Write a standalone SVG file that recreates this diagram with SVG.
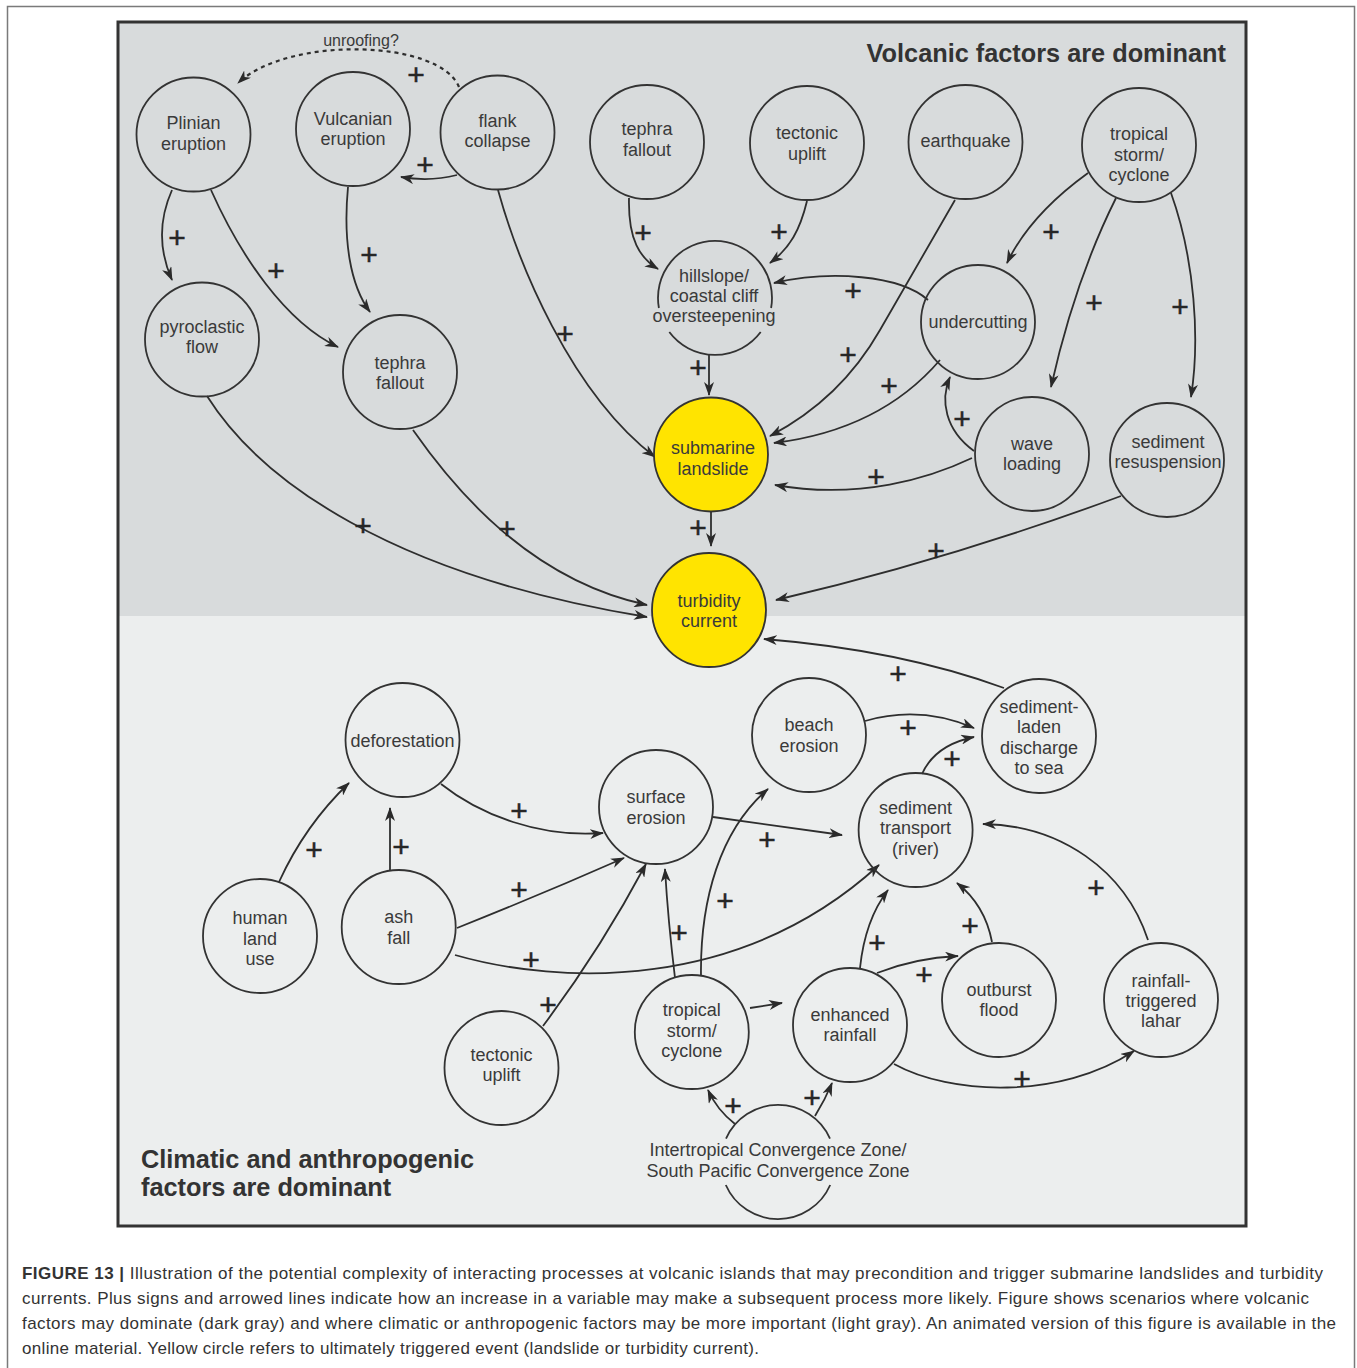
<svg xmlns="http://www.w3.org/2000/svg" width="1357" height="1368" viewBox="0 0 1357 1368">
<style>
.node circle,.node path{fill:none;stroke:#333;stroke-width:1.8}
.node circle.y{fill:#ffe400}
.lbl{font-family:"Liberation Sans",Arial,sans-serif;font-size:18px;fill:#3a3a3a;text-anchor:middle}
.edge{fill:none;stroke:#2e2e2e;stroke-width:1.8;marker-end:url(#ah)}
.dash{stroke-dasharray:4 4;stroke-width:2.2}
.plus{font-family:"Liberation Sans",Arial,sans-serif;font-size:30px;fill:#262626;stroke:#262626;stroke-width:0.5;text-anchor:middle}
.title{font-family:"Liberation Sans",Arial,sans-serif;font-size:25.3px;font-weight:bold;fill:#333}
.cap{font-family:"Liberation Sans",Arial,sans-serif;font-size:17px;fill:#333}
</style>
<defs>
<marker id="ah" viewBox="0 0 14 10" refX="13" refY="5" markerWidth="14" markerHeight="10" markerUnits="userSpaceOnUse" orient="auto"><path d="M0,0 L14,5 L0,10 L4,5 z" fill="#2a2a2a"/></marker>
</defs>
<rect x="0" y="0" width="1357" height="1368" fill="#fff"/>
<rect x="7.5" y="6.5" width="1347" height="1380" fill="none" stroke="#7a7a7a" stroke-width="1.5"/>
<g id="panels">
<rect x="118" y="22" width="1128" height="594" fill="#d8dbdc"/>
<rect x="118" y="616" width="1128" height="610" fill="#eceeee"/>
<rect x="118" y="22" width="1128" height="1204" fill="none" stroke="#333" stroke-width="3"/>
<text class="title" x="1226" y="62" text-anchor="end">Volcanic factors are dominant</text>
<text class="title" x="141" y="1168">Climatic and anthropogenic</text>
<text class="title" x="141" y="1196">factors are dominant</text>
</g>
<g id="connectors">
<path class="edge dash" d="M459,87 C440,40 290,35 238,83"/>
<text class="lbl" x="361" y="46" style="font-size:16px">unroofing?</text>
<path class="edge" d="M457,175 Q430,182 401,177"/>
<path class="edge" d="M172,190 Q152,235 172,280"/>
<path class="edge" d="M211,190 C240,255 285,322 338,347"/>
<path class="edge" d="M348,187 C343,240 350,285 370,312"/>
<path class="edge" d="M498,190 C518,262 570,392 655,457"/>
<path class="edge" d="M629,198 C628,240 640,258 658,269"/>
<path class="edge" d="M807,201 C800,230 790,248 770,263"/>
<path class="edge" d="M928,300 C900,275 830,270 774,283"/>
<path class="edge" d="M955,200 L880,330 Q840.7,399 770,436"/>
<path class="edge" d="M940,360 Q880,430 774,443"/>
<path class="edge" d="M1088,173 Q1030,215 1007,263"/>
<path class="edge" d="M1116,198 Q1075,280 1051,387"/>
<path class="edge" d="M1171,193 C1195,260 1200,340 1191,397"/>
<path class="edge" d="M974,451 C945,430 940,400 950,377"/>
<path class="edge" d="M972,458 C930,478 860,500 775,485"/>
<path class="edge" d="M709,355 L709,395"/>
<path class="edge" d="M711,511 L711,546"/>
<path class="edge" d="M207,396 C260,480 390,575 647,617"/>
<path class="edge" d="M413,430 C455,490 530,580 647,605"/>
<path class="edge" d="M1121,496 Q948,560 776,600"/>
<path class="edge" d="M1004,688 Q900,650 764,639"/>
<path class="edge" d="M279,882 Q305,825 349,783"/>
<path class="edge" d="M390,871 L390,808"/>
<path class="edge" d="M441,784 C480,815 540,838 603,833"/>
<path class="edge" d="M457,928 Q540,895 624,858"/>
<path class="edge" d="M455,955 C560,985 740,992 879,865"/>
<path class="edge" d="M543,1026 Q600,950 646,864"/>
<path class="edge" d="M675,978 Q668,920 665,869"/>
<path class="edge" d="M701,976 C700,900 720,830 768,789"/>
<path class="edge" d="M713,817 L842,835"/>
<path class="edge" d="M865,721 Q920,705 974,728"/>
<path class="edge" d="M922,774 Q935,745 974,737"/>
<path class="edge" d="M750,1008 L782,1003"/>
<path class="edge" d="M860,968 Q865,920 888,890"/>
<path class="edge" d="M877,973 Q915,958 958,956"/>
<path class="edge" d="M992,942 Q985,905 957,883"/>
<path class="edge" d="M1148,940 C1125,870 1060,825 983,824"/>
<path class="edge" d="M894,1064 C950,1095 1060,1100 1134,1051"/>
<path class="edge" d="M735,1124 Q717,1110 708,1090"/>
<path class="edge" d="M815,1116 Q825,1100 832,1083"/>
<g id="plus-signs" transform="translate(0,1)">
<text class="plus" x="416" y="84">+</text>
<text class="plus" x="425" y="174">+</text>
<text class="plus" x="177" y="247">+</text>
<text class="plus" x="276" y="280">+</text>
<text class="plus" x="369" y="264">+</text>
<text class="plus" x="565" y="343">+</text>
<text class="plus" x="643" y="242">+</text>
<text class="plus" x="779" y="241">+</text>
<text class="plus" x="853" y="300">+</text>
<text class="plus" x="848" y="364">+</text>
<text class="plus" x="889" y="395">+</text>
<text class="plus" x="1051" y="241">+</text>
<text class="plus" x="1094" y="312">+</text>
<text class="plus" x="1180" y="316">+</text>
<text class="plus" x="962" y="428">+</text>
<text class="plus" x="876" y="486">+</text>
<text class="plus" x="698" y="377">+</text>
<text class="plus" x="698" y="537">+</text>
<text class="plus" x="363" y="535">+</text>
<text class="plus" x="507" y="538">+</text>
<text class="plus" x="936" y="560">+</text>
<text class="plus" x="898" y="683">+</text>
<text class="plus" x="314" y="859">+</text>
<text class="plus" x="401" y="856">+</text>
<text class="plus" x="519" y="820">+</text>
<text class="plus" x="519" y="899">+</text>
<text class="plus" x="531" y="969">+</text>
<text class="plus" x="548" y="1014">+</text>
<text class="plus" x="679" y="942">+</text>
<text class="plus" x="725" y="910">+</text>
<text class="plus" x="767" y="849">+</text>
<text class="plus" x="908" y="737">+</text>
<text class="plus" x="952" y="768">+</text>
<text class="plus" x="877" y="952">+</text>
<text class="plus" x="924" y="984">+</text>
<text class="plus" x="970" y="935">+</text>
<text class="plus" x="1096" y="897">+</text>
<text class="plus" x="1022" y="1088">+</text>
<text class="plus" x="733" y="1115">+</text>
<text class="plus" x="812" y="1107">+</text>
</g>
</g>
<g id="node-plinian" class="node"><circle cx="193.5" cy="134.5" r="57"/><text class="lbl" x="193.5" y="129">Plinian</text><text class="lbl" x="193.5" y="150">eruption</text></g>
<g id="node-vulcanian" class="node"><circle cx="353" cy="129" r="57"/><text class="lbl" x="353" y="125">Vulcanian</text><text class="lbl" x="353" y="145">eruption</text></g>
<g id="node-flank" class="node"><circle cx="497.5" cy="132.5" r="57"/><text class="lbl" x="497.5" y="127">flank</text><text class="lbl" x="497.5" y="147">collapse</text></g>
<g id="node-tephra-top" class="node"><circle cx="647" cy="142" r="57"/><text class="lbl" x="647" y="135">tephra</text><text class="lbl" x="647" y="156">fallout</text></g>
<g id="node-tectonic-top" class="node"><circle cx="807" cy="143" r="57"/><text class="lbl" x="807" y="139">tectonic</text><text class="lbl" x="807" y="160">uplift</text></g>
<g id="node-earthquake" class="node"><circle cx="965.5" cy="142" r="57"/><text class="lbl" x="965.5" y="147">earthquake</text></g>
<g id="node-storm-top" class="node"><circle cx="1139" cy="145" r="57"/><text class="lbl" x="1139" y="140">tropical</text><text class="lbl" x="1139" y="161">storm/</text><text class="lbl" x="1139" y="181">cyclone</text></g>
<g id="node-hillslope" class="node"><path d="M658.9,308 A57,57 0 1 1 771.1,308"/><path d="M760.7,332 A57,57 0 0 1 669.3,332"/><text class="lbl" x="714" y="282">hillslope/</text><text class="lbl" x="714" y="302">coastal cliff</text><text class="lbl" x="714" y="322">oversteepening</text></g>
<g id="node-undercutting" class="node"><circle cx="978" cy="322" r="57"/><text class="lbl" x="978" y="328">undercutting</text></g>
<g id="node-pyroclastic" class="node"><circle cx="202" cy="339.5" r="57"/><text class="lbl" x="202" y="333">pyroclastic</text><text class="lbl" x="202" y="353">flow</text></g>
<g id="node-tephra-mid" class="node"><circle cx="400" cy="372" r="57"/><text class="lbl" x="400" y="369">tephra</text><text class="lbl" x="400" y="389">fallout</text></g>
<g id="node-submarine" class="node"><circle class="y" cx="711" cy="454.5" r="57"/><text class="lbl" x="713" y="454">submarine</text><text class="lbl" x="713" y="475">landslide</text></g>
<g id="node-turbidity" class="node"><circle class="y" cx="709" cy="610" r="57"/><text class="lbl" x="709" y="607">turbidity</text><text class="lbl" x="709" y="627">current</text></g>
<g id="node-wave" class="node"><circle cx="1032" cy="454" r="57"/><text class="lbl" x="1032" y="450">wave</text><text class="lbl" x="1032" y="470">loading</text></g>
<g id="node-resuspension" class="node"><circle cx="1167" cy="460" r="57"/><text class="lbl" x="1168" y="448">sediment</text><text class="lbl" x="1168" y="468">resuspension</text></g>
<g id="node-deforestation" class="node"><circle cx="402.5" cy="740" r="57"/><text class="lbl" x="402.5" y="747">deforestation</text></g>
<g id="node-human" class="node"><circle cx="260" cy="936" r="57"/><text class="lbl" x="260" y="924">human</text><text class="lbl" x="260" y="945">land</text><text class="lbl" x="260" y="965">use</text></g>
<g id="node-ash" class="node"><circle cx="398.7" cy="927" r="57"/><text class="lbl" x="398.7" y="923">ash</text><text class="lbl" x="398.7" y="944">fall</text></g>
<g id="node-tectonic-bot" class="node"><circle cx="501.5" cy="1068" r="57"/><text class="lbl" x="501.5" y="1061">tectonic</text><text class="lbl" x="501.5" y="1081">uplift</text></g>
<g id="node-surface" class="node"><circle cx="656" cy="807" r="57"/><text class="lbl" x="656" y="803">surface</text><text class="lbl" x="656" y="824">erosion</text></g>
<g id="node-beach" class="node"><circle cx="809" cy="735" r="57"/><text class="lbl" x="809" y="731">beach</text><text class="lbl" x="809" y="752">erosion</text></g>
<g id="node-discharge" class="node"><circle cx="1039" cy="736" r="57"/><text class="lbl" x="1039" y="713">sediment-</text><text class="lbl" x="1039" y="733">laden</text><text class="lbl" x="1039" y="754">discharge</text><text class="lbl" x="1039" y="774">to sea</text></g>
<g id="node-transport" class="node"><circle cx="915.6" cy="830" r="57"/><text class="lbl" x="915.6" y="814">sediment</text><text class="lbl" x="915.6" y="834">transport</text><text class="lbl" x="915.6" y="855">(river)</text></g>
<g id="node-storm-bot" class="node"><circle cx="691.8" cy="1032" r="57"/><text class="lbl" x="691.8" y="1016">tropical</text><text class="lbl" x="691.8" y="1037">storm/</text><text class="lbl" x="691.8" y="1057">cyclone</text></g>
<g id="node-rainfall" class="node"><circle cx="850" cy="1025" r="57"/><text class="lbl" x="850" y="1021">enhanced</text><text class="lbl" x="850" y="1041">rainfall</text></g>
<g id="node-outburst" class="node"><circle cx="999" cy="1000" r="57"/><text class="lbl" x="999" y="996">outburst</text><text class="lbl" x="999" y="1016">flood</text></g>
<g id="node-lahar" class="node"><circle cx="1161" cy="1000" r="57"/><text class="lbl" x="1161" y="987">rainfall-</text><text class="lbl" x="1161" y="1007">triggered</text><text class="lbl" x="1161" y="1027">lahar</text></g>
<g id="node-itcz" class="node"><path d="M726,1138.6 A57,57 0 0 1 830,1138.6"/><path d="M830.2,1185 A57,57 0 0 1 725.8,1185"/><text class="lbl" x="778" y="1156">Intertropical Convergence Zone/</text><text class="lbl" x="778" y="1177">South Pacific Convergence Zone</text></g>
<g id="caption">
<text class="cap" x="22" y="1279" textLength="1301"><tspan font-weight="bold">FIGURE 13 |</tspan> Illustration of the potential complexity of interacting processes at volcanic islands that may precondition and trigger submarine landslides and turbidity</text>
<text class="cap" x="22" y="1304" textLength="1287">currents. Plus signs and arrowed lines indicate how an increase in a variable may make a subsequent process more likely. Figure shows scenarios where volcanic</text>
<text class="cap" x="22" y="1329" textLength="1314">factors may dominate (dark gray) and where climatic or anthropogenic factors may be more important (light gray). An animated version of this figure is available in the</text>
<text class="cap" x="22" y="1354" textLength="737">online material. Yellow circle refers to ultimately triggered event (landslide or turbidity current).</text>
</g>
</svg>
